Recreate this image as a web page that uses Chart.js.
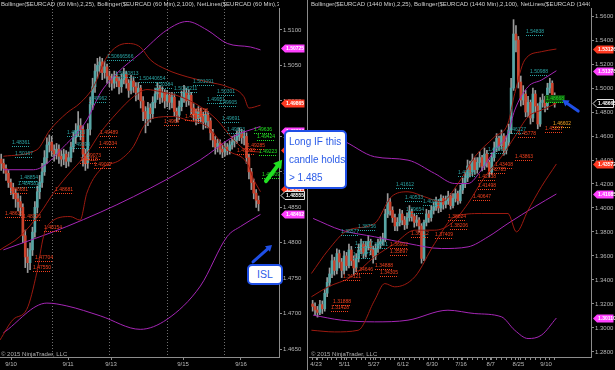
<!DOCTYPE html>
<html>
<head>
<meta charset="utf-8">
<script src="https://cdn.jsdelivr.net/npm/chart.js@4/dist/chart.umd.min.js"></script>
<style>
  body { margin: 0; background: #000; width: 615px; height: 370px; overflow: hidden; position: relative;
         font-family: "Liberation Sans", Arial, sans-serif; }
  canvas { position: absolute; top: 0; }
  #cl { left: 0; }
  #cr { left: 309px; }
  .sep { position: absolute; left: 307px; top: 0; width: 1px; height: 370px; background: #8a8a8a; }
  .hdr { position: absolute; top: 1px; font-size: 6px; color: #d0d0d0; white-space: nowrap; overflow: hidden; }
  .copy { position: absolute; top: 351px; font-size: 6px; color: #b0b0b0; white-space: nowrap; }
  .note { position: absolute; box-sizing: border-box; background: #fff; border: 2px solid #1f4fe6; border-radius: 5px;
          color: #2b5ce8; font-size: 10px; line-height: 18px; white-space: nowrap; overflow: hidden; }
</style>
</head>
<body>
<canvas id="cl" width="306" height="370"></canvas>
<canvas id="cr" width="306" height="370"></canvas>
<div class="sep"></div>
<div class="hdr" style="left:1px;width:278px">Bollinger($EURCAD (60 Min),2,25), Bollinger($EURCAD (60 Min),2,100), NetLines($EURCAD (60 Min),3,5,Color [Lime</div>
<div class="hdr" style="left:311px;width:279px">Bollinger($EURCAD (1440 Min),2,25), Bollinger($EURCAD (1440 Min),2,100), NetLines($EURCAD (1440 Min),3,5,Col</div>
<div class="copy" style="left:1px">© 2015 NinjaTrader, LLC</div>
<div class="copy" style="left:311px">© 2015 NinjaTrader, LLC</div>
<div class="note" style="left:284px;top:130px;width:63px;height:59px;padding:1px 0 0 3px">Long IF this<br>candle holds<br>&gt; 1.485</div>
<div class="note" style="left:247px;top:264px;width:36px;height:21px;line-height:17px;font-size:10.5px;text-align:center">ISL</div>
<script>
// ---------- $EURCAD 60 min (left panel) ----------
const openL = [1.4918,1.4912,1.4905,1.4898,1.4885,1.4878,1.4870,1.4862,1.4858,1.4850,1.4810,1.4780,1.4772,1.4790,1.4815,1.4850,1.4872,1.4885,1.4900,1.4920,
  1.4938,1.4942,1.4930,1.4925,1.4932,1.4922,1.4918,1.4925,1.4915,1.4920,1.4935,1.4948,1.4958,1.4965,1.4960,1.4925,1.4912,1.4960,1.4995,1.5020,
  1.5042,1.5050,1.5055,1.5040,1.5048,1.5035,1.5030,1.5025,1.5035,1.5028,1.5020,1.5030,1.5038,1.5025,1.5015,1.5028,1.5020,1.5012,1.5018,1.5000,
  1.4985,1.4975,1.4990,1.4982,1.4998,1.5010,1.5018,1.5005,1.5012,1.5000,1.5008,1.4998,1.5005,1.4985,1.4980,1.4992,1.5005,1.5012,1.5000,1.5008,
  1.4990,1.4982,1.4975,1.4985,1.4978,1.4970,1.4980,1.4972,1.4955,1.4945,1.4935,1.4940,1.4932,1.4928,1.4935,1.4930,1.4938,1.4942,1.4945,1.4950,
  1.4955,1.4948,1.4950,1.4920,1.4900,1.4885,1.4870,1.4860];
const highL = [1.4925,1.4918,1.4910,1.4902,1.4890,1.4884,1.4876,1.4870,1.4866,1.4855,1.4818,1.4792,1.4800,1.4822,1.4858,1.4880,1.4895,1.4912,1.4930,1.4948,
  1.4952,1.4950,1.4938,1.4940,1.4938,1.4930,1.4932,1.4930,1.4928,1.4942,1.4956,1.4968,1.4985,1.4975,1.4965,1.4932,1.4968,1.5005,1.5032,1.5052,
  1.5060,1.5062,1.5060,1.5056,1.5052,1.5042,1.5038,1.5042,1.5040,1.5034,1.5038,1.5046,1.5042,1.5030,1.5036,1.5034,1.5026,1.5026,1.5022,1.5006,
  1.4992,1.4998,1.4996,1.5006,1.5018,1.5026,1.5022,1.5020,1.5016,1.5015,1.5012,1.5012,1.5010,1.4990,1.5000,1.5014,1.5022,1.5018,1.5016,1.5012,
  1.4996,1.4988,1.4992,1.4990,1.4984,1.4988,1.4985,1.4976,1.4960,1.4950,1.4946,1.4945,1.4938,1.4942,1.4940,1.4944,1.4950,1.4952,1.4958,1.4962,
  1.4960,1.4958,1.4955,1.4925,1.4905,1.4890,1.4875,1.4866];
const lowL = [1.4902,1.4898,1.4888,1.4878,1.4868,1.4862,1.4850,1.4845,1.4838,1.4800,1.4765,1.4758,1.4762,1.4782,1.4808,1.4842,1.4862,1.4878,1.4895,1.4912,
  1.4928,1.4922,1.4915,1.4918,1.4912,1.4908,1.4910,1.4906,1.4908,1.4914,1.4928,1.4940,1.4950,1.4945,1.4908,1.4902,1.4905,1.4952,1.4988,1.5012,
  1.5032,1.5040,1.5030,1.5032,1.5025,1.5020,1.5015,1.5018,1.5020,1.5010,1.5012,1.5024,1.5018,1.5005,1.5010,1.5012,1.5000,1.5002,1.4990,1.4972,
  1.4955,1.4965,1.4970,1.4975,1.4990,1.5002,1.4996,1.4998,1.4990,1.4992,1.4988,1.4990,1.4978,1.4970,1.4974,1.4986,1.4998,1.4992,1.4994,1.4982,
  1.4972,1.4966,1.4968,1.4970,1.4960,1.4962,1.4962,1.4945,1.4935,1.4925,1.4928,1.4925,1.4920,1.4922,1.4924,1.4925,1.4932,1.4935,1.4940,1.4944,
  1.4940,1.4938,1.4912,1.4890,1.4875,1.4862,1.4850,1.4845];
const closeL = [1.4912,1.4905,1.4898,1.4885,1.4878,1.4870,1.4862,1.4858,1.4850,1.4810,1.4780,1.4772,1.4790,1.4815,1.4850,1.4872,1.4885,1.4900,1.4920,1.4938,
  1.4942,1.4930,1.4925,1.4932,1.4922,1.4918,1.4925,1.4915,1.4920,1.4935,1.4948,1.4958,1.4965,1.4960,1.4925,1.4912,1.4960,1.4995,1.5020,1.5042,
  1.5050,1.5055,1.5040,1.5048,1.5035,1.5030,1.5025,1.5035,1.5028,1.5020,1.5030,1.5038,1.5025,1.5015,1.5028,1.5020,1.5012,1.5018,1.5000,1.4985,
  1.4975,1.4990,1.4982,1.4998,1.5010,1.5018,1.5005,1.5012,1.5000,1.5008,1.4998,1.5005,1.4985,1.4980,1.4992,1.5005,1.5012,1.5000,1.5008,1.4990,
  1.4982,1.4975,1.4985,1.4978,1.4970,1.4980,1.4972,1.4955,1.4945,1.4935,1.4940,1.4932,1.4928,1.4935,1.4930,1.4938,1.4942,1.4945,1.4950,1.4955,
  1.4948,1.4950,1.4920,1.4900,1.4885,1.4870,1.4860,1.4855];
const datesL = ['9/10', '9/11', '9/13', '9/15', '9/16'];
const dateBarL = [4.1, 27.8, 45.7, 75.6, 99.7];
const sessionBarL = [21.2, 44.9, 69.1, 92.8];
// bollinger curves, [bar, price]
const bb25UpL = [[0.9,1.4922],[14.8,1.4931],[20.3,1.4959],[27.3,1.4983],[32.8,1.4997],[38.4,1.5020],[43.9,1.5062],[52.3,1.5081],[57.8,1.5076],
  [62,1.5058],[68.9,1.5044],[77.3,1.5034],[85.6,1.5027],[94,1.5020],[100.9,1.5006],[103,1.4990],[107.8,1.4994]];
const bb25MidL = [[-0.5,1.4790],[7.8,1.4809],[16.2,1.4842],[21.7,1.4870],[27.3,1.4894],[35.6,1.4926],[41.2,1.4955],[48.1,1.4983],[55,1.5006],
  [60.6,1.5016],[66.2,1.5013],[74.5,1.5006],[82.8,1.4992],[89.8,1.4973],[96.7,1.4945],[102.3,1.4930],[107.8,1.4928]];
const bb25LoL = [[-0.5,1.4663],[5,1.4692],[10.6,1.4706],[14.8,1.4758],[17.6,1.4809],[20.3,1.4828],[28.7,1.4837],[32.8,1.4832],[35.6,1.4870],
  [41.2,1.4903],[49.5,1.4917],[55,1.4936],[59.2,1.4964],[63.4,1.4976],[71.7,1.4978],[77.3,1.4973],[85.6,1.4964],[94,1.4931],[102.3,1.4912],
  [105,1.4889],[107.8,1.4872]];
const bb100UpL = [[0.9,1.4903],[13.4,1.4903],[27.3,1.4940],[35.6,1.4973],[41.2,1.5011],[48.1,1.5039],[57.8,1.5067],[68.9,1.5100],[77.3,1.5112],
  [85.6,1.5100],[94,1.5081],[103.7,1.5076],[107.8,1.5072]];
const bb100MidL = [[0.9,1.4790],[27.3,1.4823],[55,1.4865],[82.8,1.4917],[96.7,1.4950],[107.8,1.4964]];
const bb100LoL = [[0.9,1.4673],[19,1.4715],[27.3,1.4711],[41.2,1.4697],[57.8,1.4678],[68.9,1.4692],[82.8,1.4739],[94,1.4809],[99.5,1.4823],
  [107.8,1.4840]];
// NetLines price labels, [bar, price, text]
const netUpL = [[4.4,1.4941,'1.48361'],[5.8,1.4925,'1.50167'],[7.8,1.4891,'1.48854'],[7.1,1.4883,'1.4845812'],[27.3,1.4955,'1.49133'],
  [29.4,1.4938,'1.49393'],[36.3,1.5003,'1.49962'],[43.9,1.5062,'1.50666566'],[47.4,1.5038,'1.5040813'],[57.1,1.5031,'1.50440654'],
  [64.1,1.5022,'1.50384'],[79.8,1.5026,'1.501091'],[71.7,1.5017,'1.5018211'],[89.8,1.5013,'1.50301'],[85.6,1.5001,'1.49951'],
  [90.5,1.4997,'1.49905'],[91.9,1.4975,'1.49691'],[94,1.4959,'1.49623']];
const netDnL = [[3.7,1.4874,'1.48681'],[1.6,1.4840,'1.48633'],[9.2,1.4836,'1.48326'],[14.1,1.4779,'1.47704'],[13.4,1.4765,'1.47550'],
  [17.6,1.4821,'1.48154'],[22.4,1.4874,'1.48681'],[41.2,1.4955,'1.49489'],[40.5,1.4939,'1.49334'],[34.2,1.4923,'1.49073'],
  [32.8,1.4917,'1.49118'],[38.4,1.4909,'1.49007'],[67.6,1.4970,'1.4964'],[78.7,1.4986,'1.49858'],[76.6,1.4978,'1.49727'],
  [102.3,1.4936,'1.49285'],[98.1,1.4929,'1.49098']];
const netNowL = [[105.1,1.4959,'1.49636'],[106.4,1.4949,'1.49424'],[107.1,1.4928,'1.49223'],[108.5,1.4896,'1.48909']];
// price markers on the axis, [position, text, fill]
const tagsL = [[1.5075,'1.50725','#ff40ff'],[1.4997,'1.49865','#ff3a22'],[1.4958,'1.49664','#ff40ff'],[1.4931,'1.49283','#ff3a22'],
  [1.4876,'1.48644','#ff3a22'],[1.4867,'1.48555','#000'],[1.4841,'1.48402','#ff40ff']];

// ---------- $EURCAD 1440 min (right panel) ----------
const openR = [1.3200,1.3180,1.3150,1.3130,1.3195,1.3160,1.3290,1.3380,1.3450,1.3560,1.3480,1.3620,1.3550,1.3480,1.3600,1.3520,1.3650,1.3560,1.3500,1.3580,
  1.3650,1.3700,1.3620,1.3680,1.3720,1.3650,1.3600,1.3660,1.3700,1.3720,1.3740,1.3950,1.4050,1.3980,1.3920,1.3850,1.3880,1.3950,1.3900,1.3860,
  1.3920,1.3970,1.3930,1.3880,1.3900,1.3850,1.3580,1.3880,1.3950,1.3920,1.3980,1.4010,1.4050,1.4000,1.4080,1.4030,1.4060,1.4100,1.4020,1.4080,
  1.4120,1.4060,1.4150,1.4200,1.4250,1.4350,1.4300,1.4400,1.4320,1.4380,1.4420,1.4350,1.4450,1.4380,1.4300,1.4420,1.4500,1.4580,1.4520,1.4600,
  1.4480,1.4550,1.4650,1.5000,1.5450,1.5400,1.5050,1.4900,1.4950,1.4800,1.4880,1.4750,1.4950,1.4850,1.4700,1.4880,1.4900,1.4850,1.5000,1.5040,
  1.4930];
const highR = [1.3230,1.3210,1.3180,1.3230,1.3225,1.3320,1.3420,1.3500,1.3610,1.3590,1.3660,1.3650,1.3580,1.3640,1.3630,1.3700,1.3680,1.3600,1.3620,1.3700,
  1.3740,1.3720,1.3720,1.3770,1.3740,1.3680,1.3700,1.3740,1.3760,1.3790,1.3990,1.4120,1.4080,1.4010,1.3950,1.3920,1.3990,1.3980,1.3930,1.3960,
  1.4020,1.3990,1.3950,1.3940,1.3920,1.3870,1.3900,1.3990,1.3980,1.4020,1.4050,1.4090,1.4070,1.4110,1.4100,1.4100,1.4140,1.4120,1.4120,1.4160,
  1.4140,1.4190,1.4250,1.4300,1.4400,1.4390,1.4450,1.4420,1.4420,1.4470,1.4440,1.4500,1.4480,1.4400,1.4460,1.4550,1.4620,1.4600,1.4650,1.4620,
  1.4600,1.4700,1.5080,1.5570,1.5520,1.5430,1.5100,1.5020,1.4980,1.4930,1.4900,1.5000,1.4980,1.4870,1.4920,1.4950,1.4930,1.5040,1.5080,1.5060,
  1.4960];
const lowR = [1.3140,1.3110,1.3090,1.3110,1.3120,1.3140,1.3260,1.3350,1.3420,1.3440,1.3450,1.3500,1.3420,1.3450,1.3480,1.3500,1.3520,1.3440,1.3470,1.3550,
  1.3620,1.3580,1.3590,1.3650,1.3610,1.3540,1.3570,1.3630,1.3660,1.3690,1.3720,1.3920,1.3940,1.3880,1.3810,1.3810,1.3850,1.3860,1.3820,1.3830,
  1.3890,1.3890,1.3840,1.3850,1.3800,1.3540,1.3560,1.3850,1.3880,1.3890,1.3950,1.3980,1.3960,1.3970,1.3990,1.4000,1.4030,1.3990,1.4000,1.4050,
  1.4030,1.4040,1.4120,1.4170,1.4220,1.4260,1.4270,1.4280,1.4290,1.4340,1.4310,1.4320,1.4340,1.4260,1.4280,1.4390,1.4470,1.4480,1.4490,1.4440,
  1.4450,1.4520,1.4620,1.4980,1.5300,1.5000,1.4850,1.4860,1.4760,1.4760,1.4700,1.4720,1.4800,1.4660,1.4680,1.4840,1.4800,1.4820,1.4960,1.4900,
  1.4840];
const closeR = [1.3180,1.3150,1.3130,1.3195,1.3160,1.3290,1.3380,1.3450,1.3560,1.3480,1.3620,1.3550,1.3480,1.3600,1.3520,1.3650,1.3560,1.3500,1.3580,1.3650,
  1.3700,1.3620,1.3680,1.3720,1.3650,1.3600,1.3660,1.3700,1.3720,1.3740,1.3950,1.4050,1.3980,1.3920,1.3850,1.3880,1.3950,1.3900,1.3860,1.3920,
  1.3970,1.3930,1.3880,1.3900,1.3850,1.3580,1.3880,1.3950,1.3920,1.3980,1.4010,1.4050,1.4000,1.4080,1.4030,1.4060,1.4100,1.4020,1.4080,1.4120,
  1.4060,1.4150,1.4200,1.4250,1.4350,1.4300,1.4400,1.4320,1.4380,1.4420,1.4350,1.4450,1.4380,1.4300,1.4420,1.4500,1.4580,1.4520,1.4600,1.4480,
  1.4550,1.4650,1.5000,1.5450,1.5400,1.5050,1.4900,1.4950,1.4800,1.4880,1.4750,1.4950,1.4850,1.4700,1.4880,1.4900,1.4850,1.5000,1.5040,1.4930,
  1.4867];
const datesR = ['4/23', '5/11', '5/27', '6/12', '6/30', '7/16', '8/7', '8/25', '9/10'];
const dateBarR = [1.4, 13.2, 25.3, 37.3, 49.3, 61.3, 73.6, 85, 96.4];
const bb25UpR = [[-0.5,1.3454],[6.4,1.3648],[14.6,1.3815],[25.6,1.3871],[32.5,1.4093],[39.4,1.4135],[46.3,1.4093],[53.2,1.4052],[60.1,1.4204],
  [67,1.4427],[75.2,1.4594],[80.7,1.4705],[83.5,1.4955],[87.6,1.5233],[94.5,1.5303],[100.7,1.5325]];
const bb25MidR = [[-0.5,1.3260],[6.4,1.3343],[16,1.3426],[25.6,1.3593],[33.9,1.3704],[42.2,1.3815],[50.4,1.3815],[57.3,1.3871],[64.2,1.4038],
  [71.1,1.4260],[78,1.4427],[83.5,1.4594],[89,1.4760],[94.5,1.4816],[100.7,1.4872]];
const bb25LoR = [[-0.5,1.2981],[9.1,1.2967],[18.8,1.2981],[25.6,1.3231],[29.8,1.3370],[33.9,1.3343],[42.2,1.3426],[50.4,1.3704],[58.7,1.3926],
  [69.7,1.3954],[80.7,1.3954],[84.2,1.3801],[89,1.3982],[94.5,1.4177],[100.7,1.4367]];
const bb100UpR = [[0.2,1.4621],[11.9,1.4566],[25.6,1.4427],[39.4,1.4399],[50.4,1.4288],[58.7,1.4204],[64.2,1.4204],[69.7,1.4316],[75.2,1.4482],
  [80.7,1.4621],[83.5,1.4816],[89,1.5011],[94.5,1.5066],[100.7,1.5144]];
const bb100MidR = [[0.2,1.3913],[11.9,1.3815],[25.6,1.3760],[39.4,1.3704],[53.2,1.3662],[64.2,1.3676],[72.5,1.3760],[80.7,1.3871],[91.7,1.4010],
  [100.7,1.4117]];
const bb100LoR = [[0.2,1.3107],[11.9,1.3065],[25.6,1.3051],[39.4,1.3065],[55.9,1.3148],[67,1.3120],[78,1.3093],[83.5,1.2981],[89,1.2912],
  [94.5,1.2940],[100.7,1.3083]];
const netUpR = [[88.1,1.5469,'1.54838'],[89.7,1.5136,'1.50988'],[80.7,1.4649,'1.46127'],[72.5,1.4483,'1.43953'],[60.1,1.4288,'1.42751'],
  [34.6,1.4190,'1.41612'],[38,1.4080,'1.40533'],[45.6,1.4052,'1.40211'],[38.7,1.3987,'1.39654'],[18.7,1.3843,'1.38756'],
  [11.9,1.3802,'1.38577'],[17.4,1.3704,'1.37977'],[16.7,1.3607,'1.37477'],[23.6,1.3690,'1.36591']];
const netDnR = [[83.5,1.4427,'1.43863'],[75.2,1.4358,'1.43408'],[72.5,1.4316,'1.42785'],[68.3,1.4261,'1.42138'],[68.3,1.4185,'1.41498'],
  [66.3,1.4088,'1.40647'],[84.9,1.4616,'1.45778'],[95.9,1.4660,'1.45217'],[55.9,1.3926,'1.38824'],[56.6,1.3851,'1.38206'],
  [50.4,1.3774,'1.37409'],[31.8,1.3693,'1.36902'],[31.8,1.3634,'1.35897'],[40.8,1.3782,'1.36112'],[25.6,1.3515,'1.34888'],
  [27.7,1.3454,'1.34305'],[17.4,1.3487,'1.34646'],[12.6,1.3426,'1.34121'],[8.4,1.3217,'1.31888'],[7.7,1.3170,'1.31428']];
const netMidR = [[99.3,1.4696,'1.46602']];
const netNowR = [[96.6,1.4905,'1.48668']];
const tagsR = [[1.5325,'1.53126','#ff3a22'],[1.5142,'1.51378','#ff40ff'],[1.4875,'1.48665','#000'],[1.4367,'1.43572','#ff3a22'],
  [1.4117,'1.41085','#ff40ff'],[1.3083,'1.30110','#ff40ff']];

const UP = '#58a6a6', DN = '#cc432d', WICK = '#9a9a9a';
const BBRED = '#9c1a10', BBMAG = '#a526b5';
const AXIS = '#8c8c8c', TXT = '#b8b8b8';
const FONT = '"Liberation Sans", Arial, sans-serif';

function candles(o, h, l, c) {
  const idx = c.map((v, i) => i);
  return [
    { type: 'bar', data: idx.map(i => ({ x: i, y: [l[i], h[i]] })), backgroundColor: WICK,
      barThickness: 1, grouped: false, order: 3 },
    { type: 'bar', data: idx.map(i => ({ x: i, y: [o[i], c[i]] })), backgroundColor: idx.map(i => c[i] >= o[i] ? UP : DN),
      barThickness: 2, minBarLength: 1, grouped: false, order: 2 }
  ];
}

function band(pts, color) {
  return { type: 'line', data: pts.map(p => ({ x: p[0], y: p[1] })), borderColor: color, borderWidth: 1,
           pointRadius: 0, cubicInterpolationMode: 'monotone', order: 1 };
}

function arrow(ctx, x1, y1, x2, y2, color, w) {
  const a = Math.atan2(y2 - y1, x2 - x1), hl = w * 2.4;
  ctx.save();
  ctx.strokeStyle = color; ctx.fillStyle = color; ctx.lineWidth = w; ctx.lineCap = 'round';
  ctx.beginPath();
  ctx.moveTo(x1, y1);
  ctx.lineTo(x2 - Math.cos(a) * hl * 0.7, y2 - Math.sin(a) * hl * 0.7);
  ctx.stroke();
  ctx.beginPath();
  ctx.moveTo(x2, y2);
  ctx.lineTo(x2 - hl * Math.cos(a - 0.55), y2 - hl * Math.sin(a - 0.55));
  ctx.lineTo(x2 - hl * Math.cos(a + 0.55), y2 - hl * Math.sin(a + 0.55));
  ctx.closePath();
  ctx.fill();
  ctx.restore();
}

function overlay(cfg) {
  return {
    id: 'overlay',
    beforeDatasetsDraw(chart) {
      const { ctx, chartArea, scales: { x } } = chart;
      ctx.save();
      ctx.strokeStyle = '#707070'; ctx.lineWidth = 1; ctx.setLineDash([1, 2]);
      (cfg.sessions || []).forEach(v => {
        const px = Math.round(x.getPixelForValue(v)) + 0.5;
        ctx.beginPath(); ctx.moveTo(px, 0); ctx.lineTo(px, chartArea.bottom); ctx.stroke();
      });
      ctx.restore();
    },
    afterDatasetsDraw(chart) {
      const { ctx, scales: { x, y } } = chart;
      ctx.save();
      ctx.font = '5px ' + FONT;
      ctx.textBaseline = 'middle';
      ctx.lineWidth = 1;
      cfg.labels.forEach(([set, color, bg]) => set.forEach(([i, p, t]) => {
        const px = Math.round(x.getPixelForValue(i)), py = Math.round(y.getPixelForValue(p));
        const w = ctx.measureText(t).width;
        if (bg) { ctx.fillStyle = bg; ctx.fillRect(px - 1, py - 4, w + 2, 8); }
        ctx.fillStyle = color;
        ctx.fillText(t, px, py);
        ctx.strokeStyle = color; ctx.setLineDash([1, 1]);
        ctx.beginPath(); ctx.moveTo(px, py + 3.5); ctx.lineTo(px + w, py + 3.5); ctx.stroke();
        ctx.setLineDash([]);
      }));
      ctx.restore();
    },
    afterDraw(chart) {
      const { ctx, chartArea, scales: { x, y } } = chart;
      ctx.save();
      ctx.font = 'bold 5px ' + FONT;
      ctx.textBaseline = 'middle';
      cfg.tags.forEach(([p, t, fill]) => {
        const py = Math.round(y.getPixelForValue(p)) + 0.5;
        const x0 = chartArea.right + 2, x1 = chart.width - 1.5;
        ctx.beginPath();
        ctx.moveTo(x0, py); ctx.lineTo(x0 + 4, py - 4); ctx.lineTo(x1, py - 4);
        ctx.lineTo(x1, py + 4); ctx.lineTo(x0 + 4, py + 4); ctx.closePath();
        ctx.fillStyle = fill; ctx.fill();
        if (fill === '#000') { ctx.strokeStyle = '#e0e0e0'; ctx.lineWidth = 1; ctx.stroke(); }
        ctx.fillStyle = '#fff';
        ctx.fillText(t, x0 + 5, py);
      });
      ctx.restore();
      cfg.arrows.forEach(([i1, p1, i2, p2, color, w]) =>
        arrow(ctx, x.getPixelForValue(i1), y.getPixelForValue(p1), x.getPixelForValue(i2), y.getPixelForValue(p2), color, w));
    }
  };
}

function makeChart(id, o, h, l, c, bands, xr, yr, step, dates, dateBars, tickBars, axisW, cfg) {
  new Chart(document.getElementById(id), {
    type: 'bar',
    data: { datasets: [...bands, ...candles(o, h, l, c)] },
    options: {
      responsive: false,
      animation: false,
      events: [],
      layout: { padding: { top: 8, left: 0, right: 0, bottom: 0 } },
      plugins: { legend: { display: false }, tooltip: { enabled: false } },
      scales: {
        x: {
          type: 'linear', min: xr[0], max: xr[1], offset: false,
          grid: { drawOnChartArea: false, offset: false, tickLength: 3, color: AXIS },
          border: { color: AXIS },
          ticks: {
            autoSkip: false, maxRotation: 0, padding: 1, color: TXT, font: { size: 6, family: FONT },
            callback: v => { const k = dateBars.indexOf(v); return k >= 0 ? dates[k] : ''; }
          },
          afterBuildTicks: s => { s.ticks = tickBars.map(v => ({ value: v })); },
          afterFit: s => { s.height = 13; }
        },
        y: {
          position: 'right', min: yr[0], max: yr[1],
          grid: { drawOnChartArea: false, tickLength: 3, color: AXIS },
          border: { color: AXIS },
          ticks: { stepSize: step, includeBounds: false, padding: 1, color: TXT, font: { size: 6, family: FONT },
                   callback: v => v.toFixed(4) },
          afterFit: s => { s.width = axisW; }
        }
      }
    },
    plugins: [overlay(cfg)]
  });
}

makeChart('cl', openL, highL, lowL, closeL,
  [band(bb25UpL, BBRED), band(bb25MidL, BBRED), band(bb25LoL, BBRED),
   band(bb100UpL, BBMAG), band(bb100MidL, BBMAG), band(bb100LoL, BBMAG)],
  [-0.5, 115.5], [1.4639, 1.5131], 0.005, datesL, dateBarL, dateBarL, 27,
  { sessions: sessionBarL,
    labels: [[netUpL, '#2aa3a3'], [netDnL, '#f0401e'], [netNowL, '#22e022']],
    tags: tagsL,
    arrows: [[110.1, 1.4887, 116.8, 1.4917, '#22e022', 4], [104.7, 1.4773, 112.6, 1.4797, '#1f4fe6', 3]] });

const tickBarsR = closeR.map((v, i) => i).filter(i => i % 2 === 0).concat(dateBarR);
makeChart('cr', openR, highR, lowR, closeR,
  [band(bb25UpR, BBRED), band(bb25MidR, BBRED), band(bb25LoR, BBRED),
   band(bb100UpR, BBMAG), band(bb100MidR, BBMAG), band(bb100LoR, BBMAG)],
  [-1.5, 115], [1.2758, 1.5667], 0.02, datesR, dateBarR, tickBarsR, 24,
  { labels: [[netUpR, '#2aa3a3'], [netDnR, '#f0401e'], [netMidR, '#f0a020'], [netNowR, '#22e022', '#0b4a0b']],
    tags: tagsR,
    arrows: [[109.7, 1.4808, 103.2, 1.4900, '#1f4fe6', 3]] });
</script>
</body>
</html>
